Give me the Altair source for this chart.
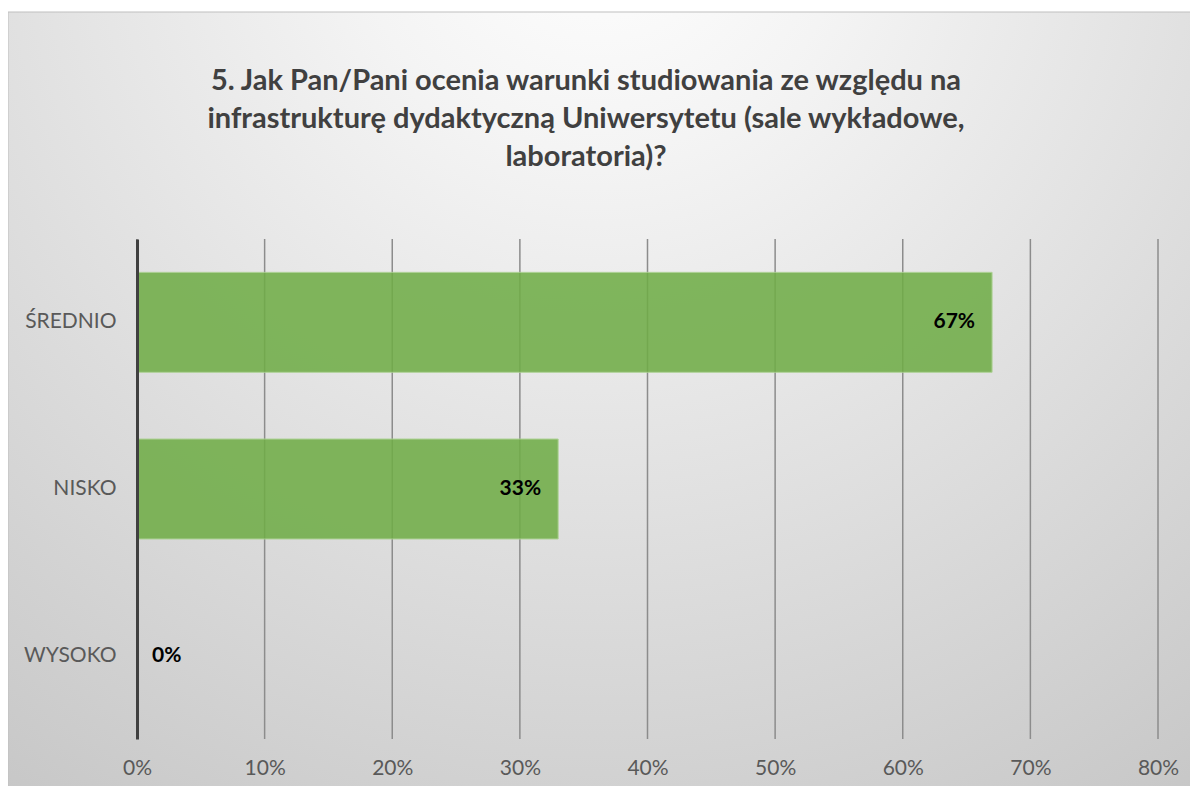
import altair as alt
import pandas as pd

categories = ["ŚREDNIO", "NISKO", "WYSOKO"]
values = [0.67, 0.33, 0.0]
tick_values = [0, 0.1, 0.2, 0.3, 0.4, 0.5, 0.6, 0.7, 0.8]
title_lines = [
    "5. Jak Pan/Pani ocenia warunki studiowania ze względu na",
    "infrastrukturę dydaktyczną Uniwersytetu (sale wykładowe,",
    "laboratoria)?",
]

W, H = 1021, 500
PAD_L, PAD_T = 129, 231
PAD_R, PAD_B = 1182 - PAD_L - W, 778 - PAD_T - H

FONT = "Lato"

df = pd.DataFrame({"cat": categories, "val": values})
ticks_df = pd.DataFrame({"t": tick_values})

xscale = alt.Scale(domain=[0, 0.8], nice=False)
yscale = alt.Scale(domain=categories, paddingInner=0.4, paddingOuter=0.2)

bg = alt.Chart(alt.Data(values=[{}])).mark_rect(
    fill=alt.RadialGradient(
        gradient="radial",
        x1=0.5, y1=0.08, r1=0.0,
        x2=0.5, y2=0.08, r2=0.95,
        stops=[
            alt.GradientStop(color="#ffffff", offset=0.0),
            alt.GradientStop(color="#f4f4f4", offset=0.22),
            alt.GradientStop(color="#c4c4c4", offset=1.0),
        ],
    ),
    stroke="#bfbfbf",
    strokeWidth=1,
).encode(
    x=alt.value(-PAD_L),
    x2=alt.value(W + PAD_R + 2),
    y=alt.value(12 - 8 - PAD_T),
    y2=alt.value(H + PAD_B + 4),
)

title = alt.Chart(alt.Data(values=[{}])).mark_text(
    text=title_lines,
    font=FONT,
    fontSize=29,
    fontWeight="bold",
    color="#404040",
    align="center",
    baseline="alphabetic",
    lineHeight=38,
).encode(x=alt.value(586 - 8 - PAD_L), y=alt.value(90 - 8 - PAD_T))

grid = alt.Chart(ticks_df).mark_rule(color="#8c8c8c", strokeWidth=1.5).encode(
    x=alt.X("t:Q", scale=xscale),
    y=alt.value(0),
    y2=alt.value(H),
)

bars = alt.Chart(df).mark_bar(
    color="#70ad47", opacity=0.87, stroke="#a9d18e", strokeWidth=1
).encode(
    x=alt.X(
        "val:Q",
        scale=xscale,
        axis=alt.Axis(
            values=tick_values,
            format=".0%",
            title=None,
            domain=False,
            ticks=False,
            grid=False,
            labelFlush=False,
            labelFont=FONT,
            labelFontSize=21,
            labelColor="#595959",
            labelPadding=18,
            zindex=1,
        ),
    ),
    y=alt.Y(
        "cat:N",
        scale=yscale,
        sort=categories,
        axis=alt.Axis(
            title=None,
            ticks=False,
            grid=False,
            domainColor="#404040",
            domainWidth=3,
            labelFont=FONT,
            labelFontSize=21,
            labelColor="#595959",
            labelPadding=21,
            zindex=1,
        ),
    ),
)

labels_pos = alt.Chart(df).transform_filter("datum.val > 0").mark_text(
    font=FONT, fontSize=21, fontWeight="bold", color="#000000",
    align="right", baseline="middle", dx=-17,
).encode(
    x=alt.X("val:Q", scale=xscale),
    y=alt.Y("cat:N", scale=yscale, sort=categories),
    text=alt.Text("val:Q", format=".0%"),
)

labels_zero = alt.Chart(df).transform_filter("datum.val == 0").mark_text(
    font=FONT, fontSize=21, fontWeight="bold", color="#000000",
    align="left", baseline="middle", dx=15,
).encode(
    x=alt.X("val:Q", scale=xscale),
    y=alt.Y("cat:N", scale=yscale, sort=categories),
    text=alt.Text("val:Q", format=".0%"),
)

chart = alt.layer(bg, title, grid, bars, labels_pos, labels_zero).properties(
    width=W,
    height=H,
    autosize=alt.AutoSizeParams(type="none"),
    padding={"left": PAD_L, "top": PAD_T, "right": PAD_R, "bottom": PAD_B},
    background="white",
).configure_view(stroke=None)

chart.save("out.html", embed_options={"renderer": "svg", "actions": False})
